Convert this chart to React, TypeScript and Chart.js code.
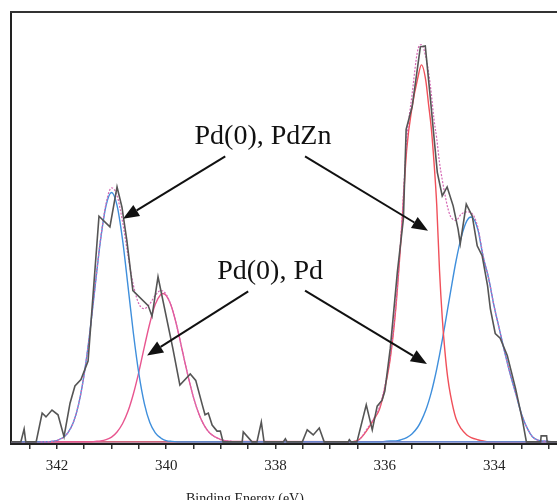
import React, { useEffect, useRef } from "react";
import { Chart, registerables } from "chart.js";

Chart.register(...registerables);

// Axis range (binding energy, eV; axis runs high -> low)
const X_LEFT = 342.84;
const X_RIGHT = 332.85;
const Y_MIN = -0.5;
const Y_MAX = 100;
const AXIS_TITLE = "Binding Energy (eV)";

// Raw spectrum (grey trace)
const rawEnergy = [
  342.84, 342.66, 342.6, 342.57, 342.38, 342.27, 342.2, 342.09, 341.98, 341.87,
  341.76, 341.67, 341.56, 341.43, 341.23, 341.03, 340.9, 340.81, 340.72, 340.61,
  340.33, 340.26, 340.15, 339.88, 339.75, 339.56, 339.46, 339.34, 339.29, 339.23,
  339.16, 339.07, 339.01, 338.96, 338.61, 338.59, 338.43, 338.34, 338.26, 338.21,
  337.86, 337.82, 337.79, 337.51, 337.42, 337.31, 337.2, 337.11, 336.67, 336.65,
  336.62, 336.51, 336.34, 336.23, 336.14, 336.05, 336.0, 335.9, 335.77, 335.66,
  335.61, 335.5, 335.35, 335.26, 335.17, 335.04, 334.95, 334.86, 334.75, 334.66,
  334.62, 334.51, 334.4, 334.31, 334.22, 334.12, 334.07, 333.98, 333.89, 333.76,
  333.61, 333.48, 333.41, 333.15, 333.14, 333.04, 333.03, 332.85,
];
const rawCounts = [
  0, 0, 3.0, 0, 0, 6.7, 5.8, 7.4, 6.3, 1.2,
  9.0, 13.0, 14.5, 18.8, 52.5, 50.0, 59.3, 54.6, 46.8, 35.2,
  31.7, 29.2, 38.4, 21.8, 13.2, 15.8, 14.3, 8.6, 6.3, 6.7,
  3.9, 2.5, 2.5, 0, 0, 2.3, 0, 0, 4.6, 0,
  0, 0.7, 0, 0, 2.8, 1.6, 3.2, 0, 0, 0.5,
  0, 0, 8.6, 2.8, 8.3, 9.7, 11.8, 21.8, 39.6, 51.9,
  72.7, 78.0, 91.9, 92.1, 80.3, 62.7, 57.2, 59.3, 54.9, 49.5,
  46.1, 55.3, 52.5, 45.6, 43.3, 36.3, 31.0, 25.2, 24.1, 20.1,
  12.5, 4.9, 0, 0, 1.4, 1.4, 0, 0,
];

// Pd 3d3/2 region fit
const leftEnergy = [
  342.3, 342.1, 341.9, 341.8, 341.7, 341.6, 341.5, 341.4, 341.3, 341.2,
  341.1, 341.0, 340.9, 340.8, 340.7, 340.6, 340.5, 340.4, 340.3, 340.2,
  340.1, 340.06, 340.0, 339.9, 339.8, 339.7, 339.6, 339.5, 339.4, 339.3,
  339.2, 339.0, 338.8,
];
const leftPdZn = [
  0, 0.1, 0.9, 2.1, 4.5, 8.9, 15.8, 25.2, 36.3, 47.1,
  55.0, 58.0, 55.0, 47.1, 36.3, 25.2, 15.8, 8.9, 4.5, 2.1,
  0.9, 0.6, 0.3, 0.1, 0, 0, 0, 0, 0, 0,
  0, 0, 0,
];
const leftPd = [
  0, 0, 0, 0, 0, 0, 0, 0, 0.1, 0.2,
  0.5, 1.1, 2.3, 4.2, 7.1, 11.2, 16.3, 22.1, 27.6, 32.0,
  34.3, 34.5, 34.0, 31.3, 26.6, 20.9, 15.3, 10.3, 6.4, 3.7,
  2.0, 0.5, 0.1,
];
const leftEnvelope = [
  0, 0.1, 0.9, 2.1, 4.5, 8.9, 15.8, 25.2, 36.4, 47.3,
  55.5, 59.1, 57.3, 51.3, 43.4, 36.4, 32.1, 31.0, 32.1, 34.1,
  35.2, 35.1, 34.3, 31.4, 26.6, 20.9, 15.3, 10.3, 6.4, 3.7,
  2.0, 0.5, 0.1,
];

// Pd 3d5/2 region fit
const rightEnergy = [
  336.7, 336.5, 336.3, 336.2, 336.1, 336.0, 335.9, 335.8, 335.7, 335.6,
  335.5, 335.4, 335.33, 335.25, 335.2, 335.15, 335.1, 335.05, 335.0, 334.95,
  334.9, 334.85, 334.8, 334.7, 334.6, 334.5, 334.42, 334.3, 334.2, 334.1,
  334.0, 333.9, 333.8, 333.7, 333.6, 333.5, 333.4, 333.3, 333.2, 333.0,
];
const rightPdZn = [
  0, 0.3, 3.2, 5.3, 7.5, 12.5, 19.5, 31, 48, 68,
  78, 84.5, 87.7, 84, 78.5, 73, 65, 55, 40, 29,
  21, 15, 11, 5.5, 3, 1.6, 1, 0.5, 0.2, 0,
  0, 0, 0, 0, 0, 0, 0, 0, 0, 0,
];
const rightPd = [
  0, 0, 0, 0, 0, 0.1, 0.2, 0.2, 0.5, 1.0,
  1.9, 3.4, 5.0, 7.4, 9.3, 11.5, 14.1, 17.0, 20.2, 23.6,
  27.2, 31.0, 34.7, 41.9, 47.7, 51.4, 52.3, 49.5, 43, 38,
  31.5, 26, 20.5, 15.5, 11, 6.5, 3.3, 1.2, 0.4, 0.1,
];
const rightEnvelope = [
  0, 0.3, 3.5, 5.5, 8, 13, 20, 31.5, 49, 70,
  81, 91, 92.4, 89.5, 86, 81, 75, 70.5, 65, 61,
  57.5, 54.5, 52.5, 51.5, 53, 53.5, 53.3, 50, 43.2, 38,
  31.5, 26, 20.5, 15.5, 11, 6.5, 3.3, 1.2, 0.4, 0.1,
];

// Annotations (in data units)
const annotationText = ["Pd(0), PdZn", "Pd(0), Pd"];
const annotationAt = [
  [338.23, 71.1],
  [338.1, 39.6],
];
const arrowFrom = [
  [338.92, 66.4],
  [337.46, 66.4],
  [338.5, 35.0],
  [337.46, 35.2],
];
const arrowTo = [
  [340.79, 51.9],
  [335.21, 49.1],
  [340.35, 20.1],
  [335.23, 18.1],
];
const AXIS_TITLE_AT = 338.56;

const BLUE = "#3f8fdc";
const PINK = "#e8558f";
const RED = "#f0505a";
const ENV = "#d567b4";
const GREY = "#555555";
const SERIF = '"Liberation Serif", "DejaVu Serif", serif';

function pts(xs: number[], ys: number[], extend: boolean) {
  const out = xs.map((x, i) => ({ x, y: ys[i] }));
  if (extend) {
    out.unshift({ x: X_LEFT, y: 0 });
    out.push({ x: X_RIGHT, y: 0 });
  }
  return out;
}

const overlayPlugin = {
  id: "overlay",
  afterDraw(chart: any) {
    const { ctx, chartArea, scales } = chart;
    const xs = scales.x;
    const ys = scales.y;
    ctx.save();
    // top frame line
    ctx.strokeStyle = "#333";
    ctx.lineWidth = 2;
    ctx.beginPath();
    ctx.moveTo(chartArea.left - 1, chartArea.top);
    ctx.lineTo(chartArea.right + 2, chartArea.top);
    ctx.stroke();

    // labels
    ctx.fillStyle = "#111";
    ctx.font = `28px ${SERIF}`;
    ctx.textAlign = "center";
    ctx.textBaseline = "middle";
    annotationText.forEach((t, i) => {
      ctx.fillText(t, xs.getPixelForValue(annotationAt[i][0]), ys.getPixelForValue(annotationAt[i][1]));
    });

    // arrows
    ctx.strokeStyle = "#111";
    ctx.lineWidth = 2;
    arrowFrom.forEach((f, i) => {
      const x0 = xs.getPixelForValue(f[0]);
      const y0 = ys.getPixelForValue(f[1]);
      const x1 = xs.getPixelForValue(arrowTo[i][0]);
      const y1 = ys.getPixelForValue(arrowTo[i][1]);
      const ang = Math.atan2(y1 - y0, x1 - x0);
      const len = 16;
      const hw = 6.5;
      const bx = x1 - len * Math.cos(ang);
      const by = y1 - len * Math.sin(ang);
      ctx.beginPath();
      ctx.moveTo(x0, y0);
      ctx.lineTo(bx, by);
      ctx.stroke();
      ctx.beginPath();
      ctx.moveTo(x1, y1);
      ctx.lineTo(bx + hw * Math.sin(ang), by - hw * Math.cos(ang));
      ctx.lineTo(bx - hw * Math.sin(ang), by + hw * Math.cos(ang));
      ctx.closePath();
      ctx.fill();
    });

    // axis title
    ctx.font = `14px ${SERIF}`;
    ctx.fillStyle = "#222";
    ctx.textAlign = "center";
    ctx.textBaseline = "alphabetic";
    ctx.fillText(AXIS_TITLE, xs.getPixelForValue(AXIS_TITLE_AT), chart.height + 3);
    ctx.restore();
  },
};

export default function App() {
  const ref = useRef<HTMLCanvasElement>(null);
  useEffect(() => {
    document.body.style.margin = "0";
    const lineBase = {
      pointRadius: 0,
      fill: false,
      cubicInterpolationMode: "monotone" as const,
    };
    const chart = new Chart(ref.current!, {
      type: "line",
      data: {
        datasets: [
          {
            ...lineBase,
            data: pts(rawEnergy, rawCounts, false),
            borderColor: GREY,
            borderWidth: 1.6,
            cubicInterpolationMode: "default",
            tension: 0,
          },
          { ...lineBase, data: pts(leftEnergy, leftEnvelope, false), borderColor: ENV, borderWidth: 1.2, borderDash: [2, 1.5] },
          { ...lineBase, data: pts(rightEnergy, rightEnvelope, false), borderColor: ENV, borderWidth: 1.2, borderDash: [2, 1.5] },
          { ...lineBase, data: pts(leftEnergy, leftPdZn, true), borderColor: BLUE, borderWidth: 1.4 },
          { ...lineBase, data: pts(leftEnergy, leftPd, true), borderColor: PINK, borderWidth: 1.4 },
          { ...lineBase, data: pts(rightEnergy, rightPdZn, true), borderColor: RED, borderWidth: 1.4 },
          { ...lineBase, data: pts(rightEnergy, rightPd, true), borderColor: BLUE, borderWidth: 1.4 },
        ],
      },
      options: {
        responsive: false,
        animation: false,
        devicePixelRatio: 1,
        layout: { padding: { left: 11, top: 12, right: 0, bottom: 17 } },
        plugins: { legend: { display: false }, tooltip: { enabled: false } },
        scales: {
          x: {
            type: "linear",
            reverse: true,
            min: X_RIGHT,
            max: X_LEFT,
            ticks: {
              stepSize: 0.5,
              includeBounds: false,
              autoSkip: false,
              maxRotation: 0,
              padding: 8,
              color: "#222",
              font: { family: SERIF, size: 15 },
              callback: (v: any) => {
                const n = Number(v);
                const r = Math.round(n);
                return Math.abs(n - r) < 1e-6 && r % 2 === 0 ? String(r) : "";
              },
            },
            grid: {
              display: true,
              drawOnChartArea: false,
              drawTicks: true,
              tickLength: 5,
              color: "#333",
              lineWidth: 1.5,
            },
            border: { display: true, color: "#222", width: 2 },
          },
          y: {
            type: "linear",
            min: Y_MIN,
            max: Y_MAX,
            ticks: { display: false },
            grid: { display: false, drawTicks: false },
            border: { display: true, color: "#222", width: 2 },
          },
        },
      },
      plugins: [overlayPlugin],
    });
    return () => chart.destroy();
  }, []);
  return (
    <div style={{ width: 557, height: 500, position: "relative" }}>
      <canvas ref={ref} width={557} height={500} style={{ display: "block" }} />
    </div>
  );
}
